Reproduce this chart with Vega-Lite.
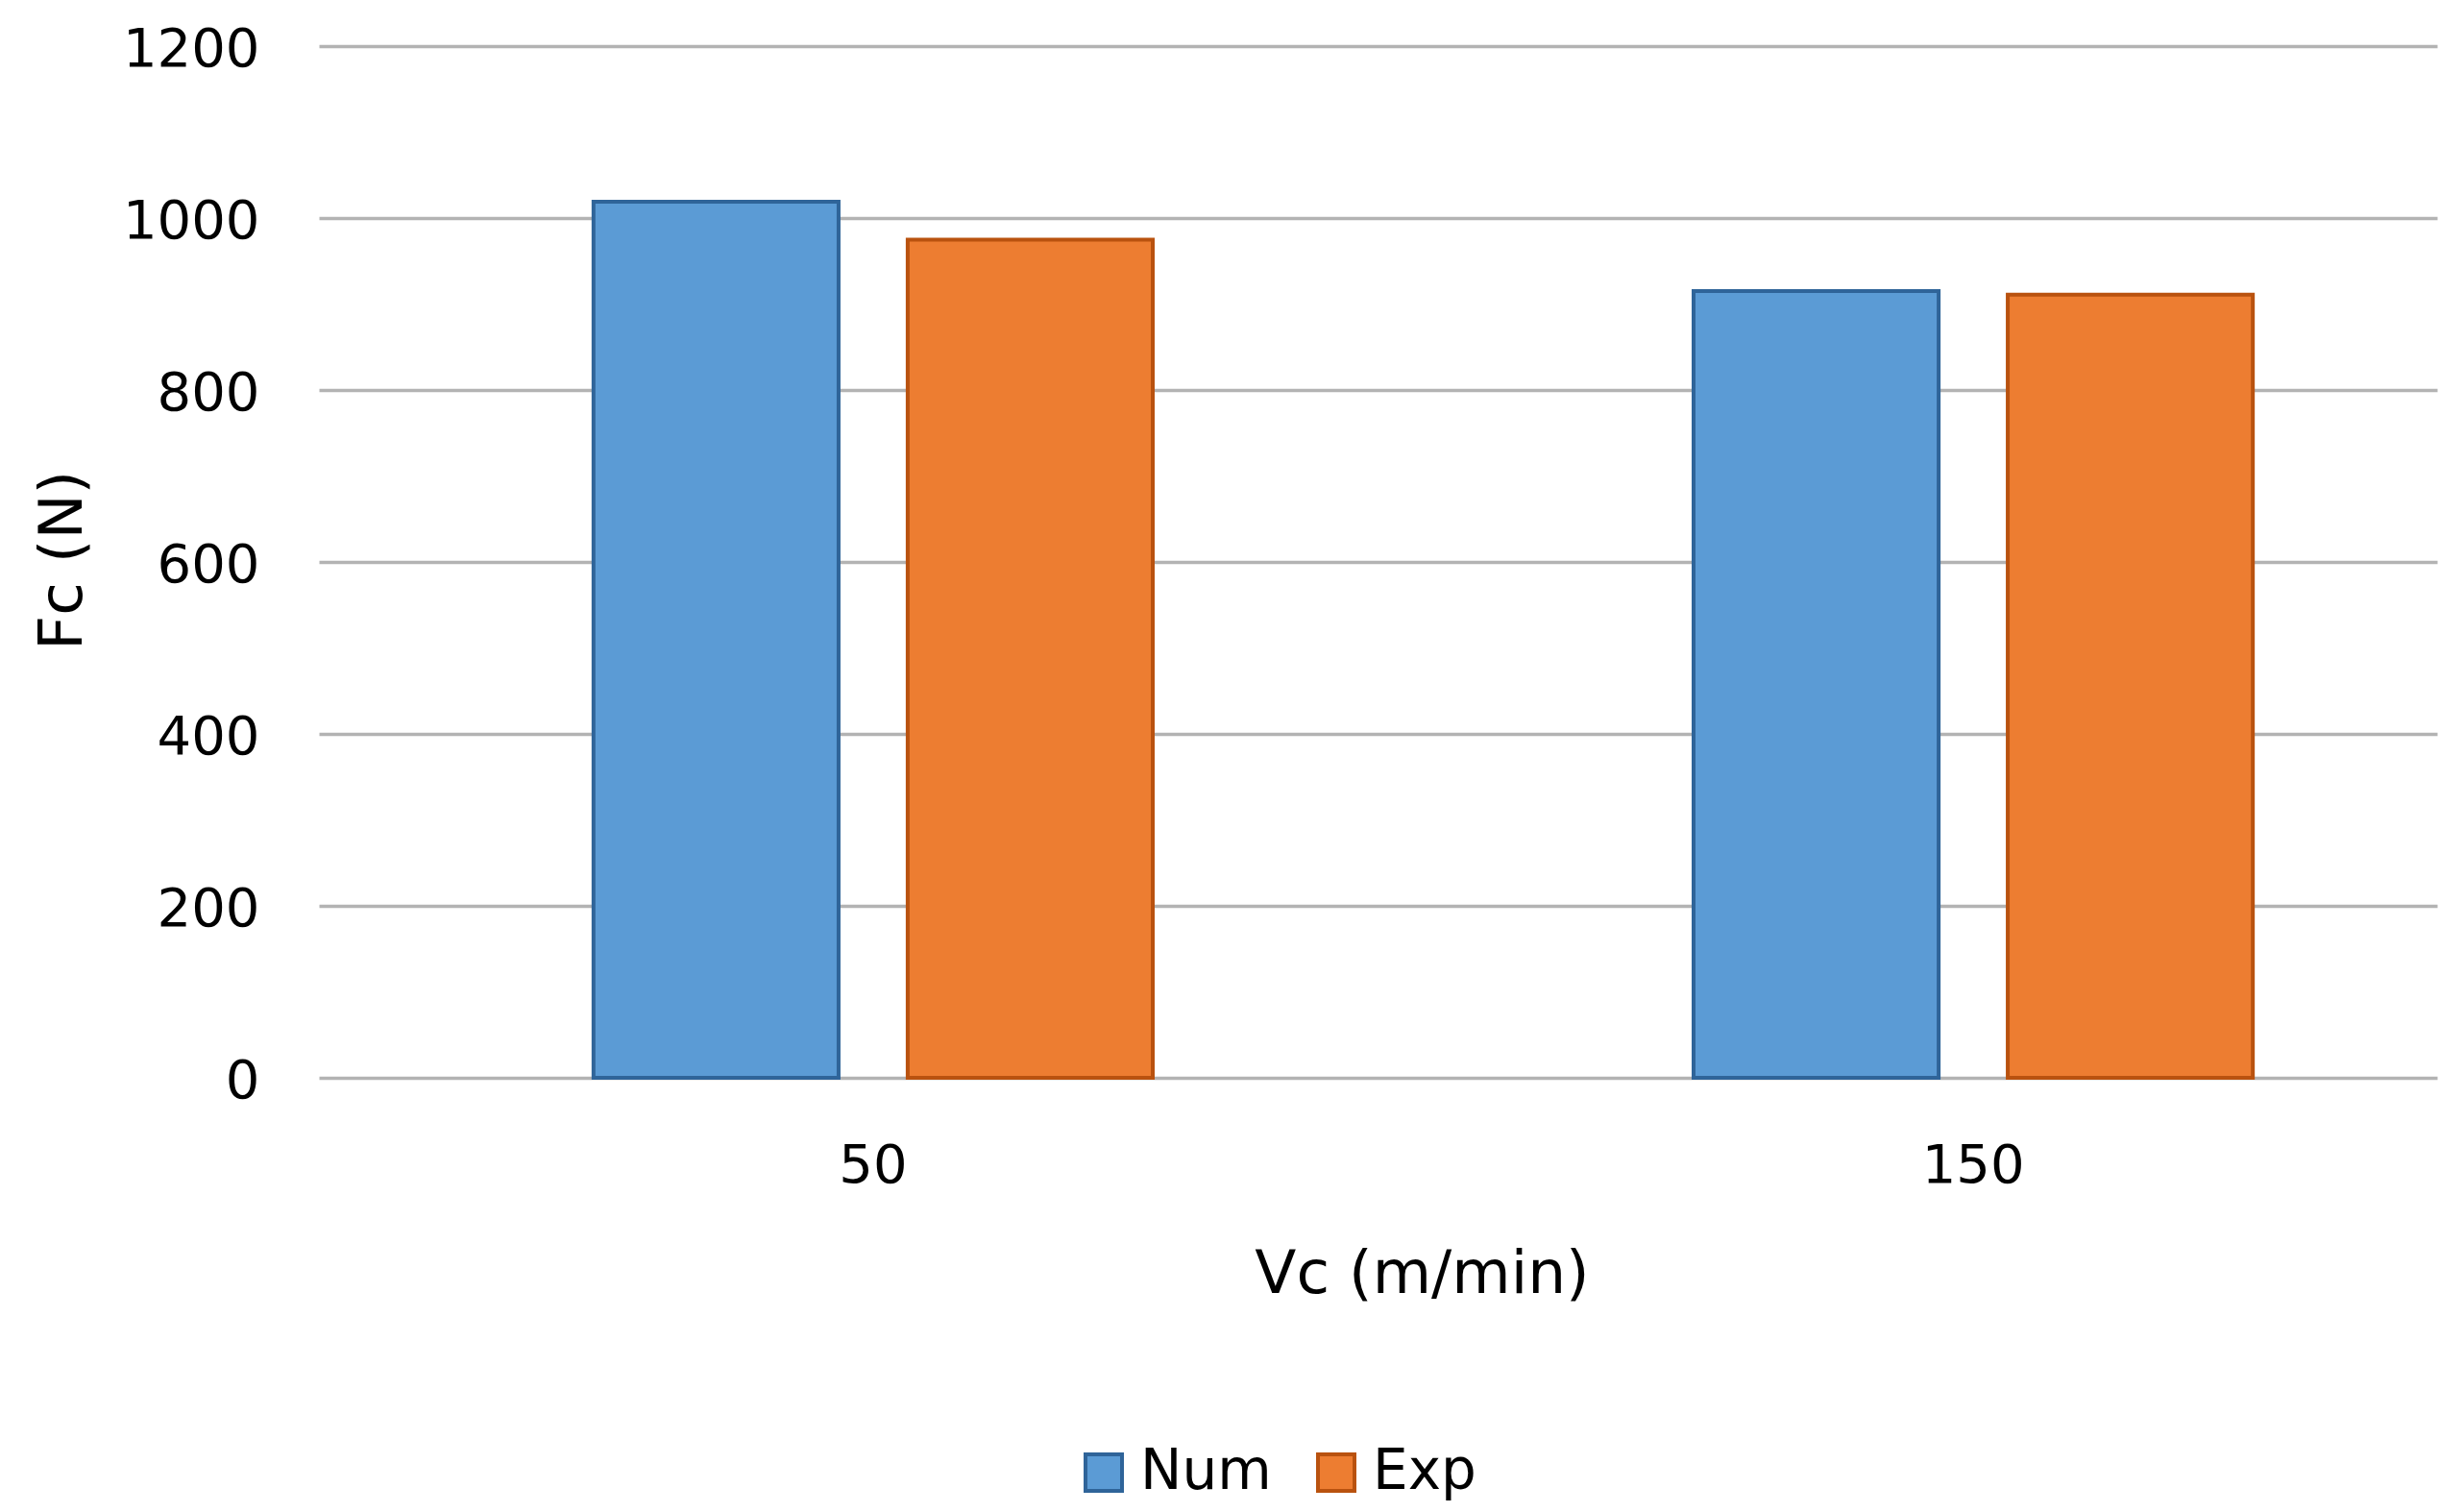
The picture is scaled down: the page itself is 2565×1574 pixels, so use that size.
{
  "$schema": "https://vega.github.io/schema/vega-lite/v6.json",
  "width": 2205,
  "height": 1074,
  "autosize": {"type": "none"},
  "padding": {"left": 332, "top": 48, "right": 28, "bottom": 452},
  "background": "white",
  "config": {"view": {"stroke": null}},
  "data": {
    "values": [
      {"Vc": "50", "series": "Num", "Fc": 1019},
      {"Vc": "50", "series": "Exp", "Fc": 975},
      {"Vc": "150", "series": "Num", "Fc": 915},
      {"Vc": "150", "series": "Exp", "Fc": 911}
    ]
  },
  "mark": {"type": "bar", "strokeWidth": 4},
  "encoding": {
    "x": {
      "field": "Vc",
      "type": "nominal",
      "sort": ["50", "150"],
      "scale": {"paddingInner": 0.4345, "paddingOuter": 0.18, "align": 0.614},
      "axis": {
        "title": "Vc (m/min)",
        "labelAngle": 0,
        "domain": false,
        "ticks": false,
        "tickSize": 0,
        "grid": false,
        "labelFont": "DejaVu Sans",
        "labelFontSize": 56,
        "labelColor": "black",
        "labelBaseline": "alphabetic",
        "labelPadding": 108,
        "titleFont": "DejaVu Sans",
        "titleFontSize": 63,
        "titleFontWeight": "normal",
        "titleColor": "black",
        "titleX": 1148,
        "titleY": 223,
        "titleAlign": "center",
        "titleBaseline": "alphabetic"
      }
    },
    "xOffset": {
      "field": "series",
      "type": "nominal",
      "sort": ["Num", "Exp"],
      "scale": {"paddingInner": 0.22, "paddingOuter": 0.1}
    },
    "y": {
      "field": "Fc",
      "type": "quantitative",
      "scale": {"domain": [0, 1200], "nice": false},
      "axis": {
        "title": "Fc (N)",
        "values": [0, 200, 400, 600, 800, 1000, 1200],
        "format": "d",
        "domain": false,
        "ticks": false,
        "tickSize": 0,
        "grid": true,
        "gridColor": "#B3B3B3",
        "gridWidth": 3.5,
        "labelFont": "DejaVu Sans",
        "labelFontSize": 56,
        "labelColor": "black",
        "labelPadding": 62,
        "labelBaseline": "alphabetic",
        "labelOffset": 20,
        "titleFont": "DejaVu Sans",
        "titleFontSize": 63,
        "titleFontWeight": "normal",
        "titleColor": "black",
        "titleAngle": -90,
        "titleX": -248,
        "titleY": 535,
        "titleAlign": "center",
        "titleBaseline": "alphabetic"
      }
    },
    "color": {
      "field": "series",
      "type": "nominal",
      "scale": {"domain": ["Num", "Exp"], "range": ["#5B9BD5", "#ED7D31"]},
      "legend": {
        "orient": "none",
        "legendX": 788,
        "legendY": 1456,
        "direction": "horizontal",
        "title": null,
        "symbolType": "square",
        "symbolSize": 1444,
        "symbolStrokeWidth": 4,
        "labelFont": "DejaVu Sans",
        "labelFontSize": 58,
        "labelColor": "black",
        "labelOffset": 9,
        "columnPadding": 38
      }
    },
    "stroke": {
      "field": "series",
      "type": "nominal",
      "scale": {"domain": ["Num", "Exp"], "range": ["#2F6499", "#B9520F"]},
      "legend": {
        "orient": "none",
        "legendX": 788,
        "legendY": 1456,
        "direction": "horizontal",
        "title": null,
        "symbolType": "square",
        "symbolSize": 1444,
        "symbolStrokeWidth": 4,
        "labelFont": "DejaVu Sans",
        "labelFontSize": 58,
        "labelColor": "black",
        "labelOffset": 9,
        "columnPadding": 38
      }
    }
  }
}
